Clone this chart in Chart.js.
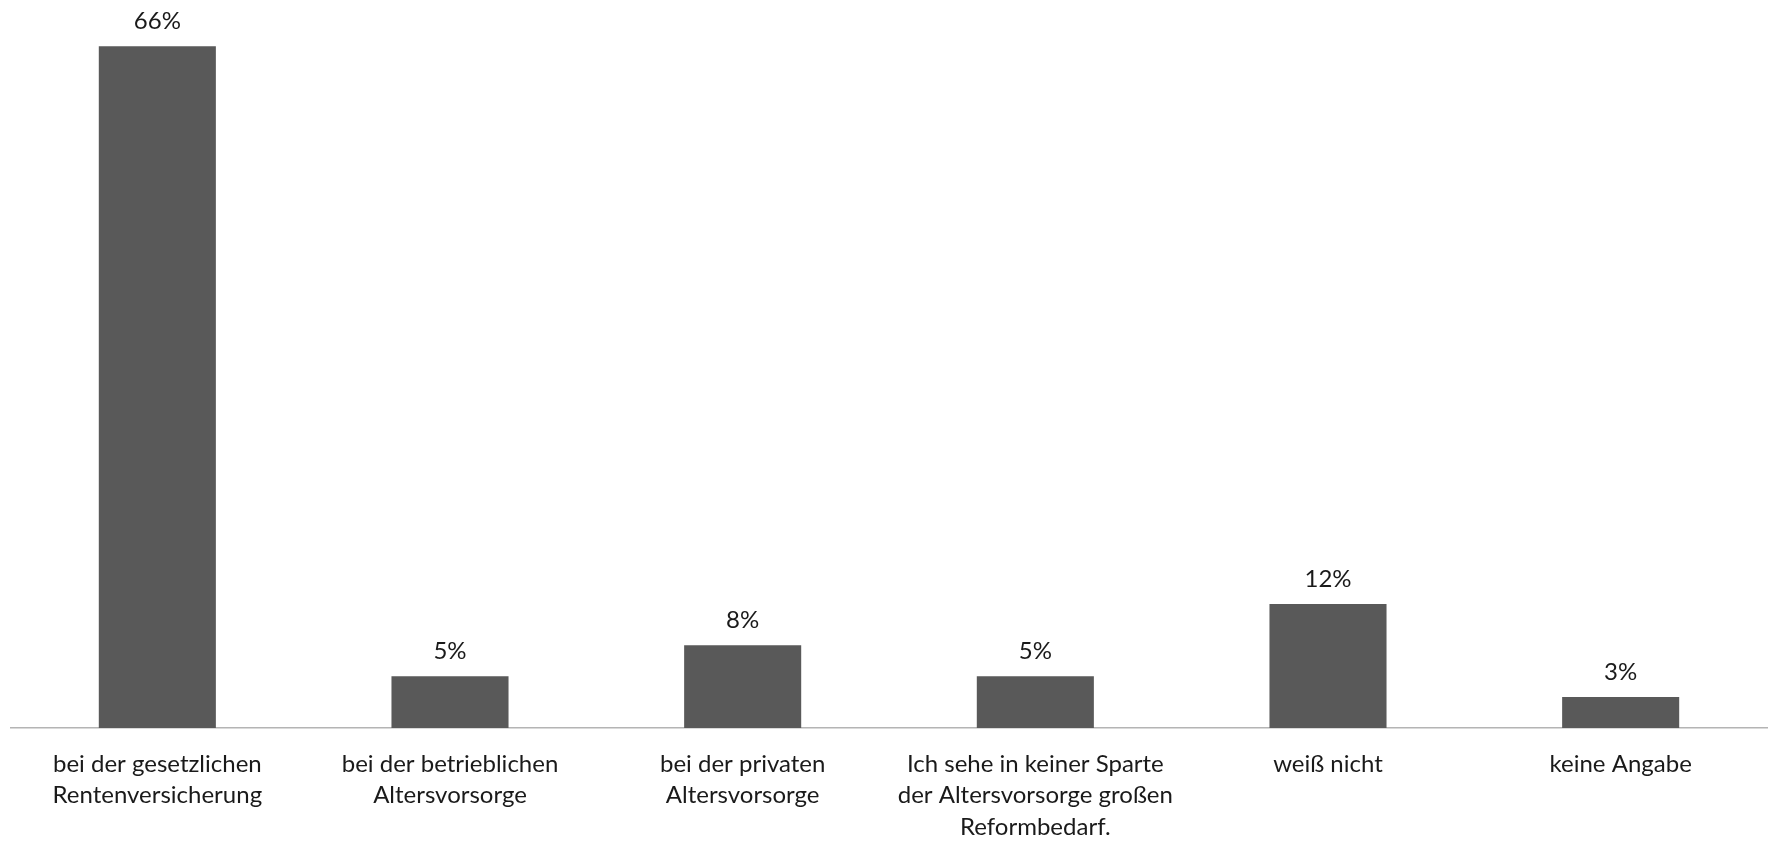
<!DOCTYPE html>
<html lang="de">
<head>
<meta charset="utf-8">
<title>Reformbedarf Altersvorsorge</title>
<script src="https://cdn.jsdelivr.net/npm/chart.js@4/dist/chart.umd.min.js"></script>
<style>
  html, body { margin: 0; padding: 0; background: #fff; }
  #wrap { width: 1769px; height: 841px; }
</style>
</head>
<body>
<div id="wrap"><canvas id="chart"></canvas></div>
<script>
// answer categories (multi-line labels under the axis)
const categories = [
  ['bei der gesetzlichen', 'Rentenversicherung'],
  ['bei der betrieblichen', 'Altersvorsorge'],
  ['bei der privaten', 'Altersvorsorge'],
  ['Ich sehe in keiner Sparte', 'der Altersvorsorge großen', 'Reformbedarf.'],
  ['weiß nicht'],
  ['keine Angabe']
];

// share of respondents in percent
const shares = [66, 5, 8, 5, 12, 3];

const FONT = 'Lato, "Open Sans", sans-serif';

// writes the percentage above each bar
const valueLabels = {
  id: 'valueLabels',
  afterDatasetsDraw(chart) {
    const ctx = chart.ctx;
    const meta = chart.getDatasetMeta(0);
    ctx.save();
    ctx.font = '24px ' + FONT;
    ctx.fillStyle = '#1a1a1a';
    ctx.textAlign = 'center';
    ctx.textBaseline = 'middle';
    meta.data.forEach((bar, i) => {
      ctx.fillText(shares[i] + '%', bar.x, bar.y - 25);
    });
    ctx.restore();
  }
};

new Chart(document.getElementById('chart'), {
  type: 'bar',
  data: {
    labels: categories,
    datasets: [{
      data: shares,
      backgroundColor: '#595959',
      borderWidth: 0,
      barPercentage: 0.4,
      categoryPercentage: 1.0
    }]
  },
  options: {
    responsive: true,
    maintainAspectRatio: false,
    animation: false,
    layout: { padding: { top: 5, left: 11, right: 2, bottom: 0 } },
    plugins: {
      legend: { display: false },
      tooltip: { enabled: false }
    },
    scales: {
      x: {
        grid: { display: false },
        border: { display: true, color: '#b4b4b4', width: 1.5 },
        ticks: {
          color: '#1a1a1a',
          padding: 12,
          maxRotation: 0,
          autoSkip: false,
          font: { family: FONT, size: 24, lineHeight: 1.32 }
        },
        afterFit(scale) { scale.height = 113; }
      },
      y: {
        display: false,
        min: 0,
        max: 70
      }
    }
  },
  plugins: [valueLabels]
});
</script>
</body>
</html>
